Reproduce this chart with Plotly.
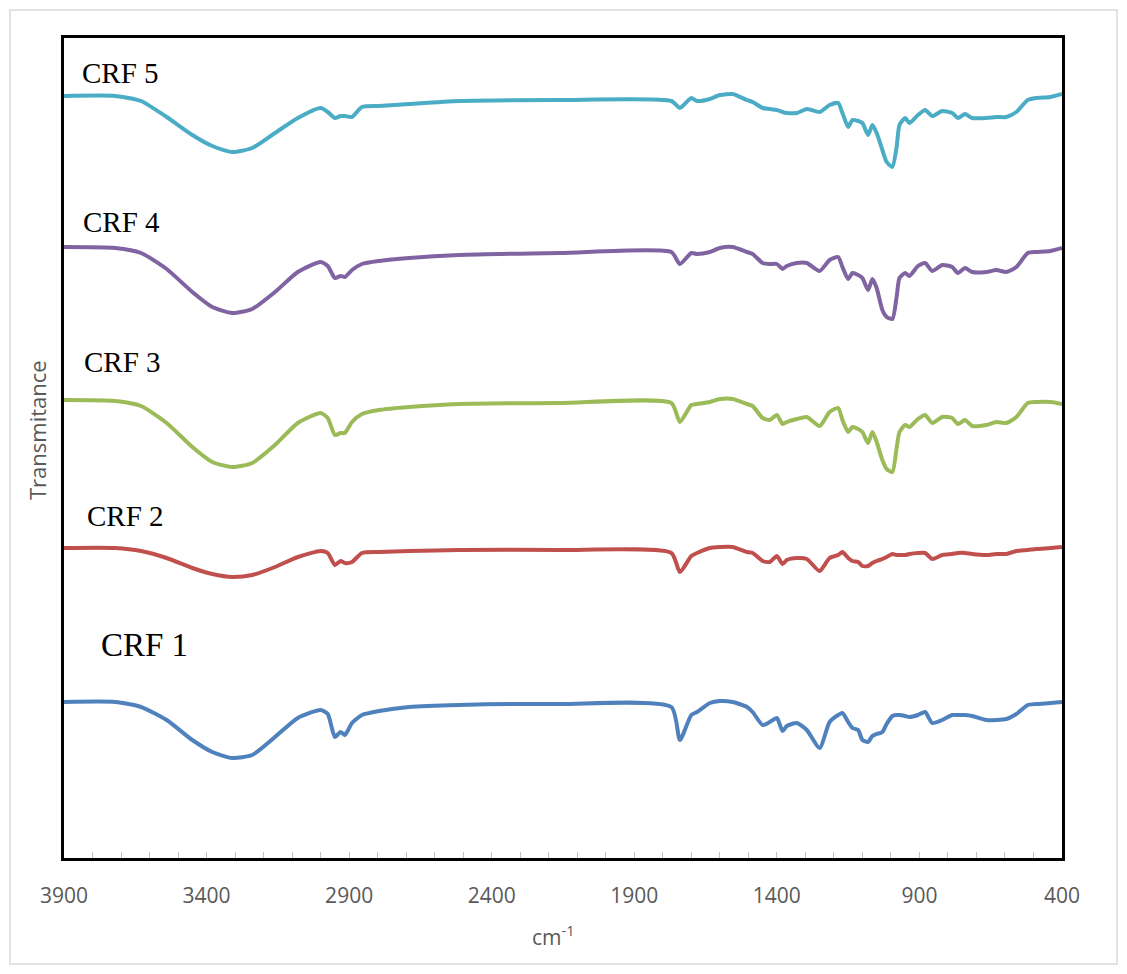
import plotly.graph_objects as go

# Wavenumber grid (cm-1), shared by all spectra
wavenumber = [3900, 3720, 3630, 3540, 3450, 3380, 3310, 3240, 3160, 3080,
              3000, 2975, 2950, 2930, 2915, 2890, 2855, 2795, 2690, 2515,
              2160, 1770, 1740, 1700, 1680, 1635, 1600, 1555, 1505, 1485,
              1450, 1425, 1400, 1380, 1365, 1330, 1295, 1250, 1215, 1185,
              1170, 1150, 1135, 1115, 1100, 1080, 1065, 1050, 1030, 1015,
              995, 980, 970, 950, 935, 905, 880, 855, 820, 785,
              765, 740, 715, 665, 630, 595, 560, 520, 490, 440,
              400]

# Transmittance (arbitrary units, stacked)
crf5 = [762, 762, 757, 741, 723, 712, 706, 710, 725, 740,
        750, 746, 740, 742, 742, 741, 751, 752, 754, 757,
        758, 757, 750, 760, 757, 759, 763, 764, 758, 756,
        750, 749, 748, 746, 745, 745, 749, 746, 753, 755,
        745, 731, 738, 737, 735, 723, 733, 725, 708, 696,
        691, 711, 733, 740, 735, 743, 748, 742, 747, 745,
        740, 744, 740, 740, 741, 741, 746, 758, 760, 761,
        764]
crf4 = [611, 610, 605, 589, 566, 551, 545, 549, 566, 586,
        596, 592, 580, 582, 581, 588, 594, 597, 600, 603,
        605, 606, 594, 605, 604, 606, 610, 611, 606, 604,
        595, 594, 594, 589, 592, 595, 595, 587, 598, 601,
        591, 579, 585, 583, 580, 568, 579, 570, 548, 541,
        539, 561, 580, 585, 582, 592, 595, 587, 593, 591,
        585, 590, 586, 586, 588, 586, 591, 605, 606, 607,
        610]
crf3 = [458, 457, 452, 435, 411, 396, 391, 395, 413, 435,
        445, 440, 423, 425, 425, 436, 444, 448, 451, 454,
        455, 455, 436, 453, 454, 456, 459, 459, 454, 452,
        440, 438, 443, 434, 436, 439, 441, 432, 446, 450,
        438, 426, 431, 429, 426, 415, 426, 416, 398, 389,
        386, 410, 426, 433, 431, 439, 443, 435, 441, 440,
        434, 438, 432, 433, 436, 435, 441, 455, 456, 456,
        454]
crf2 = [310, 310, 307, 300, 290, 284, 281, 283, 291, 301,
        307, 305, 293, 297, 295, 296, 305, 306, 307, 308,
        308, 305, 286, 302, 305, 310, 311, 311, 306, 305,
        297, 296, 302, 294, 298, 300, 299, 287, 300, 303,
        306, 300, 297, 296, 292, 292, 295, 297, 299, 301,
        304, 303, 303, 303, 304, 305, 305, 299, 303, 304,
        305, 305, 304, 303, 304, 304, 307, 308, 309, 310,
        311]
crf1 = [156, 156, 151, 138, 118, 106, 100, 103, 121, 140,
        148, 144, 121, 126, 123, 135, 143, 147, 151, 153,
        154, 151, 118, 143, 146, 155, 157, 156, 151, 146,
        133, 136, 140, 127, 132, 135, 128, 110, 136, 143,
        145, 136, 130, 128, 118, 116, 122, 124, 126, 134,
        142, 143, 143, 142, 141, 143, 146, 135, 138, 143,
        143, 143, 142, 138, 138, 139, 144, 153, 154, 155,
        156]

series_names = ["CRF 1", "CRF 2", "CRF 3", "CRF 4", "CRF 5"]
series_values = [crf1, crf2, crf3, crf4, crf5]
series_colors = ["#4F81BD", "#C0504D", "#9BBB59", "#8064A2", "#4BACC6"]
tick_values = [3900, 3400, 2900, 2400, 1900, 1400, 900, 400]

fig = go.Figure()
for name, vals, col in zip(series_names, series_values, series_colors):
    fig.add_trace(go.Scatter(x=wavenumber, y=vals, mode="lines", name=name,
                             line=dict(color=col, width=4, shape="spline", smoothing=0.6),
                             showlegend=False))

# Series labels
label_pos = {"CRF 5": (3703, 785, 29), "CRF 4": (3700, 636, 29), "CRF 3": (3696, 496, 29),
             "CRF 2": (3686, 342, 29), "CRF 1": (3616, 213, 33)}
for name, (lx, ly, fs) in label_pos.items():
    fig.add_annotation(x=lx, y=ly, text=name, showarrow=False, xref="x", yref="y",
                       xanchor="center", yanchor="middle",
                       font=dict(family="Liberation Serif", size=fs, color="black"))

# Axis titles
fig.add_annotation(x=0.49, y=-0.094, xref="paper", yref="paper", text="cm<sup>-1</sup>",
                   xanchor="center", yanchor="middle",
                   showarrow=False, font=dict(family="Open Sans", size=21, color="#595959"))
fig.add_annotation(x=-0.027, y=0.522, xref="paper", yref="paper", text="Transmitance",
                   xanchor="center", yanchor="middle", textangle=-90, showarrow=False,
                   font=dict(family="Open Sans", size=22, color="#595959"))

# Outer light frame
fig.add_shape(type="rect", xref="paper", yref="paper", x0=-0.0541, x1=1.0551,
              y0=-0.1293, y1=1.0341, line=dict(color="#D9D9D9", width=1.5))

fig.update_xaxes(range=[3900, 400], autorange=False, tickmode="array", tickvals=tick_values,
                 ticktext=[str(v) for v in tick_values],
                 ticks="inside", ticklen=6, tickcolor="#BFBFBF", tickwidth=1,
                 minor=dict(dtick=100, ticks="inside", ticklen=6, tickcolor="#BFBFBF", tickwidth=1),
                 showline=True, linecolor="black", linewidth=3, mirror=True,
                 showgrid=False, zeroline=False, ticklabelstandoff=17,
                 tickfont=dict(family="Open Sans", size=21, color="#595959"))
fig.update_yaxes(range=[0, 820], autorange=False, showticklabels=False, ticks="",
                 showline=True, linecolor="black", linewidth=3, mirror=True,
                 showgrid=False, zeroline=False)

fig.update_layout(width=1111, height=958, plot_bgcolor="white", paper_bgcolor="white",
                  margin=dict(l=56, r=57, t=30, b=108))

fig.write_html("out.html")
